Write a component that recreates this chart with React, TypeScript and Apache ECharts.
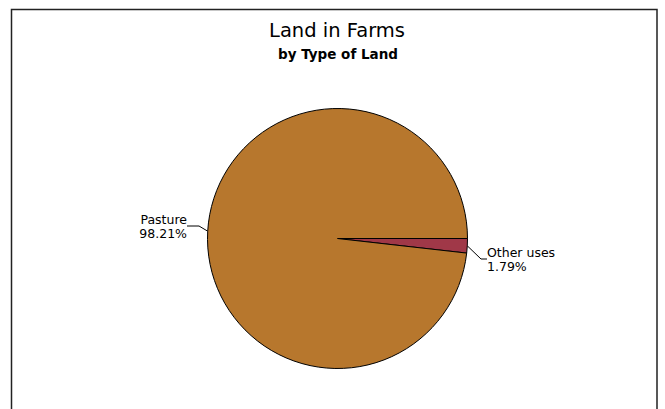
import React, { useEffect, useRef } from "react";
import * as echarts from "echarts";

const categories = ["Other uses", "Pasture"];
const shares = [1.79, 98.21];
const sliceColors = ["#A03848", "#B7772D"];
const titleText = "Land in Farms";
const subtitleText = "by Type of Land";

const FONT = "DejaVu Sans";

export default function App() {
  const ref = useRef<HTMLDivElement>(null);
  useEffect(() => {
    if (!ref.current) return;
    const chart = echarts.init(ref.current, undefined, { renderer: "svg" });
    chart.setOption({
      animation: false,
      backgroundColor: "#ffffff",
      title: [
        {
          text: titleText,
          left: 332,
          textAlign: "center",
          top: 15,
          textStyle: { fontFamily: FONT, fontSize: 19.5, fontWeight: "normal", color: "#000" },
        },
        {
          text: subtitleText,
          left: 333,
          textAlign: "center",
          top: 42,
          textStyle: { fontFamily: FONT, fontSize: 13.5, fontWeight: "bold", color: "#000" },
        },
      ],
      graphic: [
        {
          type: "rect",
          shape: { x: 11.5, y: 9.5, width: 645.5, height: 440 },
          style: { fill: "none", stroke: "#222", lineWidth: 1.5 },
          silent: true,
        },
      ],
      series: [
        {
          type: "pie",
          center: [337.5, 238.5],
          radius: 130,
          startAngle: 0,
          clockwise: true,
          data: categories.map((c, i) => ({
            name: c,
            value: shares[i],
            itemStyle: { color: sliceColors[i] },
            labelLine: { length2: i === 0 ? 6 : 12 },
          })),
          itemStyle: { borderColor: "#000", borderWidth: 1 },
          label: {
            show: true,
            formatter: "{b}\n{d}%",
            fontFamily: FONT,
            fontSize: 12.5,
            lineHeight: 14,
            color: "#000",
          },
          labelLine: {
            show: true,
            length: 10,
            length2: 8,
            lineStyle: { color: "#000", width: 1 },
          },
          labelLayout: (p: any) =>
            p.dataIndex === 0 ? { x: 487, y: 259 } : { x: 187, y: 226 },
          emphasis: { disabled: true },
        },
      ],
    });
    return () => chart.dispose();
  }, []);
  return (
    <div
      ref={ref}
      style={{ position: "absolute", left: 0, top: 0, width: 665, height: 409 }}
    />
  );
}
